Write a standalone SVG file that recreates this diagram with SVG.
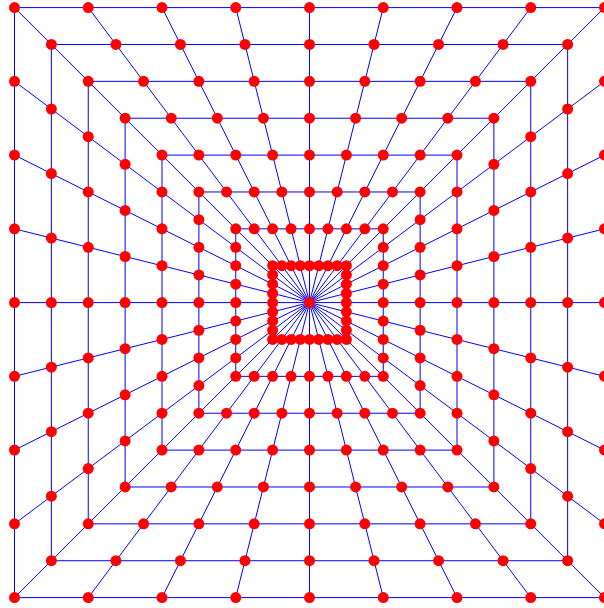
<svg xmlns="http://www.w3.org/2000/svg" width="604" height="608" viewBox="0 0 604 608">
<style>
.c line,.c rect{stroke:#0000ff;stroke-width:1;fill:none}
.nodes circle{fill:#ff0000}
</style>
<rect width="604" height="608" fill="#ffffff"/>
<g transform="translate(309.5,302.6)">
<g id="connectors" class="c">
<rect x="-295" y="-295" width="590" height="590"/>
<rect x="-258.13" y="-258.13" width="516.26" height="516.26"/>
<rect x="-221.25" y="-221.25" width="442.5" height="442.5"/>
<rect x="-184.38" y="-184.38" width="368.76" height="368.76"/>
<rect x="-147.5" y="-147.5" width="295" height="295"/>
<rect x="-110.63" y="-110.63" width="221.26" height="221.26"/>
<rect x="-73.75" y="-73.75" width="147.5" height="147.5"/>
<rect x="-36.88" y="-36.88" width="73.76" height="73.76"/>
<line x1="-295" y1="-295" x2="295" y2="295"/>
<line x1="-221.25" y1="-295" x2="221.25" y2="295"/>
<line x1="-147.5" y1="-295" x2="147.5" y2="295"/>
<line x1="-73.75" y1="-295" x2="73.75" y2="295"/>
<line x1="0" y1="-295" x2="0" y2="295"/>
<line x1="73.75" y1="-295" x2="-73.75" y2="295"/>
<line x1="147.5" y1="-295" x2="-147.5" y2="295"/>
<line x1="221.25" y1="-295" x2="-221.25" y2="295"/>
<line x1="295" y1="-295" x2="-295" y2="295"/>
<line x1="295" y1="-221.25" x2="-295" y2="221.25"/>
<line x1="295" y1="-147.5" x2="-295" y2="147.5"/>
<line x1="295" y1="-73.75" x2="-295" y2="73.75"/>
<line x1="295" y1="0" x2="-295" y2="0"/>
<line x1="295" y1="73.75" x2="-295" y2="-73.75"/>
<line x1="295" y1="147.5" x2="-295" y2="-147.5"/>
<line x1="295" y1="221.25" x2="-295" y2="-221.25"/>
</g>
<g class="nodes">
<g id="center"><circle cx="0" cy="0" r="5.5"/></g>
<g id="sq8">
<g id="q8-00"><circle cx="-295" cy="-295" r="5.5"/></g>
<g id="q8-01"><circle cx="-221.25" cy="-295" r="5.5"/></g>
<g id="q8-02"><circle cx="-147.5" cy="-295" r="5.5"/></g>
<g id="q8-03"><circle cx="-73.75" cy="-295" r="5.5"/></g>
<g id="q8-04"><circle cx="0" cy="-295" r="5.5"/></g>
<g id="q8-05"><circle cx="73.75" cy="-295" r="5.5"/></g>
<g id="q8-06"><circle cx="147.5" cy="-295" r="5.5"/></g>
<g id="q8-07"><circle cx="221.25" cy="-295" r="5.5"/></g>
<g id="q8-08"><circle cx="295" cy="-295" r="5.5"/></g>
<g id="q8-09"><circle cx="295" cy="-221.25" r="5.5"/></g>
<g id="q8-10"><circle cx="295" cy="-147.5" r="5.5"/></g>
<g id="q8-11"><circle cx="295" cy="-73.75" r="5.5"/></g>
<g id="q8-12"><circle cx="295" cy="0" r="5.5"/></g>
<g id="q8-13"><circle cx="295" cy="73.75" r="5.5"/></g>
<g id="q8-14"><circle cx="295" cy="147.5" r="5.5"/></g>
<g id="q8-15"><circle cx="295" cy="221.25" r="5.5"/></g>
<g id="q8-16"><circle cx="295" cy="295" r="5.5"/></g>
<g id="q8-17"><circle cx="221.25" cy="295" r="5.5"/></g>
<g id="q8-18"><circle cx="147.5" cy="295" r="5.5"/></g>
<g id="q8-19"><circle cx="73.75" cy="295" r="5.5"/></g>
<g id="q8-20"><circle cx="0" cy="295" r="5.5"/></g>
<g id="q8-21"><circle cx="-73.75" cy="295" r="5.5"/></g>
<g id="q8-22"><circle cx="-147.5" cy="295" r="5.5"/></g>
<g id="q8-23"><circle cx="-221.25" cy="295" r="5.5"/></g>
<g id="q8-24"><circle cx="-295" cy="295" r="5.5"/></g>
<g id="q8-25"><circle cx="-295" cy="221.25" r="5.5"/></g>
<g id="q8-26"><circle cx="-295" cy="147.5" r="5.5"/></g>
<g id="q8-27"><circle cx="-295" cy="73.75" r="5.5"/></g>
<g id="q8-28"><circle cx="-295" cy="0" r="5.5"/></g>
<g id="q8-29"><circle cx="-295" cy="-73.75" r="5.5"/></g>
<g id="q8-30"><circle cx="-295" cy="-147.5" r="5.5"/></g>
<g id="q8-31"><circle cx="-295" cy="-221.25" r="5.5"/></g>
</g>
<g id="sq7">
<g id="q7-00"><circle cx="-258.13" cy="-258.13" r="5.5"/></g>
<g id="q7-01"><circle cx="-193.59" cy="-258.13" r="5.5"/></g>
<g id="q7-02"><circle cx="-129.06" cy="-258.13" r="5.5"/></g>
<g id="q7-03"><circle cx="-64.53" cy="-258.13" r="5.5"/></g>
<g id="q7-04"><circle cx="0" cy="-258.13" r="5.5"/></g>
<g id="q7-05"><circle cx="64.53" cy="-258.13" r="5.5"/></g>
<g id="q7-06"><circle cx="129.06" cy="-258.13" r="5.5"/></g>
<g id="q7-07"><circle cx="193.59" cy="-258.13" r="5.5"/></g>
<g id="q7-08"><circle cx="258.13" cy="-258.13" r="5.5"/></g>
<g id="q7-09"><circle cx="258.13" cy="-193.59" r="5.5"/></g>
<g id="q7-10"><circle cx="258.13" cy="-129.06" r="5.5"/></g>
<g id="q7-11"><circle cx="258.13" cy="-64.53" r="5.5"/></g>
<g id="q7-12"><circle cx="258.13" cy="0" r="5.5"/></g>
<g id="q7-13"><circle cx="258.13" cy="64.53" r="5.5"/></g>
<g id="q7-14"><circle cx="258.13" cy="129.06" r="5.5"/></g>
<g id="q7-15"><circle cx="258.13" cy="193.59" r="5.5"/></g>
<g id="q7-16"><circle cx="258.13" cy="258.13" r="5.5"/></g>
<g id="q7-17"><circle cx="193.59" cy="258.13" r="5.5"/></g>
<g id="q7-18"><circle cx="129.06" cy="258.13" r="5.5"/></g>
<g id="q7-19"><circle cx="64.53" cy="258.13" r="5.5"/></g>
<g id="q7-20"><circle cx="0" cy="258.13" r="5.5"/></g>
<g id="q7-21"><circle cx="-64.53" cy="258.13" r="5.5"/></g>
<g id="q7-22"><circle cx="-129.06" cy="258.13" r="5.5"/></g>
<g id="q7-23"><circle cx="-193.59" cy="258.13" r="5.5"/></g>
<g id="q7-24"><circle cx="-258.13" cy="258.13" r="5.5"/></g>
<g id="q7-25"><circle cx="-258.13" cy="193.59" r="5.5"/></g>
<g id="q7-26"><circle cx="-258.13" cy="129.06" r="5.5"/></g>
<g id="q7-27"><circle cx="-258.13" cy="64.53" r="5.5"/></g>
<g id="q7-28"><circle cx="-258.13" cy="0" r="5.5"/></g>
<g id="q7-29"><circle cx="-258.13" cy="-64.53" r="5.5"/></g>
<g id="q7-30"><circle cx="-258.13" cy="-129.06" r="5.5"/></g>
<g id="q7-31"><circle cx="-258.13" cy="-193.59" r="5.5"/></g>
</g>
<g id="sq6">
<g id="q6-00"><circle cx="-221.25" cy="-221.25" r="5.5"/></g>
<g id="q6-01"><circle cx="-165.94" cy="-221.25" r="5.5"/></g>
<g id="q6-02"><circle cx="-110.63" cy="-221.25" r="5.5"/></g>
<g id="q6-03"><circle cx="-55.31" cy="-221.25" r="5.5"/></g>
<g id="q6-04"><circle cx="0" cy="-221.25" r="5.5"/></g>
<g id="q6-05"><circle cx="55.31" cy="-221.25" r="5.5"/></g>
<g id="q6-06"><circle cx="110.63" cy="-221.25" r="5.5"/></g>
<g id="q6-07"><circle cx="165.94" cy="-221.25" r="5.5"/></g>
<g id="q6-08"><circle cx="221.25" cy="-221.25" r="5.5"/></g>
<g id="q6-09"><circle cx="221.25" cy="-165.94" r="5.5"/></g>
<g id="q6-10"><circle cx="221.25" cy="-110.63" r="5.5"/></g>
<g id="q6-11"><circle cx="221.25" cy="-55.31" r="5.5"/></g>
<g id="q6-12"><circle cx="221.25" cy="0" r="5.5"/></g>
<g id="q6-13"><circle cx="221.25" cy="55.31" r="5.5"/></g>
<g id="q6-14"><circle cx="221.25" cy="110.63" r="5.5"/></g>
<g id="q6-15"><circle cx="221.25" cy="165.94" r="5.5"/></g>
<g id="q6-16"><circle cx="221.25" cy="221.25" r="5.5"/></g>
<g id="q6-17"><circle cx="165.94" cy="221.25" r="5.5"/></g>
<g id="q6-18"><circle cx="110.63" cy="221.25" r="5.5"/></g>
<g id="q6-19"><circle cx="55.31" cy="221.25" r="5.5"/></g>
<g id="q6-20"><circle cx="0" cy="221.25" r="5.5"/></g>
<g id="q6-21"><circle cx="-55.31" cy="221.25" r="5.5"/></g>
<g id="q6-22"><circle cx="-110.63" cy="221.25" r="5.5"/></g>
<g id="q6-23"><circle cx="-165.94" cy="221.25" r="5.5"/></g>
<g id="q6-24"><circle cx="-221.25" cy="221.25" r="5.5"/></g>
<g id="q6-25"><circle cx="-221.25" cy="165.94" r="5.5"/></g>
<g id="q6-26"><circle cx="-221.25" cy="110.63" r="5.5"/></g>
<g id="q6-27"><circle cx="-221.25" cy="55.31" r="5.5"/></g>
<g id="q6-28"><circle cx="-221.25" cy="0" r="5.5"/></g>
<g id="q6-29"><circle cx="-221.25" cy="-55.31" r="5.5"/></g>
<g id="q6-30"><circle cx="-221.25" cy="-110.63" r="5.5"/></g>
<g id="q6-31"><circle cx="-221.25" cy="-165.94" r="5.5"/></g>
</g>
<g id="sq5">
<g id="q5-00"><circle cx="-184.38" cy="-184.38" r="5.5"/></g>
<g id="q5-01"><circle cx="-138.28" cy="-184.38" r="5.5"/></g>
<g id="q5-02"><circle cx="-92.19" cy="-184.38" r="5.5"/></g>
<g id="q5-03"><circle cx="-46.09" cy="-184.38" r="5.5"/></g>
<g id="q5-04"><circle cx="0" cy="-184.38" r="5.5"/></g>
<g id="q5-05"><circle cx="46.09" cy="-184.38" r="5.5"/></g>
<g id="q5-06"><circle cx="92.19" cy="-184.38" r="5.5"/></g>
<g id="q5-07"><circle cx="138.28" cy="-184.38" r="5.5"/></g>
<g id="q5-08"><circle cx="184.38" cy="-184.38" r="5.5"/></g>
<g id="q5-09"><circle cx="184.38" cy="-138.28" r="5.5"/></g>
<g id="q5-10"><circle cx="184.38" cy="-92.19" r="5.5"/></g>
<g id="q5-11"><circle cx="184.38" cy="-46.09" r="5.5"/></g>
<g id="q5-12"><circle cx="184.38" cy="0" r="5.5"/></g>
<g id="q5-13"><circle cx="184.38" cy="46.09" r="5.5"/></g>
<g id="q5-14"><circle cx="184.38" cy="92.19" r="5.5"/></g>
<g id="q5-15"><circle cx="184.38" cy="138.28" r="5.5"/></g>
<g id="q5-16"><circle cx="184.38" cy="184.38" r="5.5"/></g>
<g id="q5-17"><circle cx="138.28" cy="184.38" r="5.5"/></g>
<g id="q5-18"><circle cx="92.19" cy="184.38" r="5.5"/></g>
<g id="q5-19"><circle cx="46.09" cy="184.38" r="5.5"/></g>
<g id="q5-20"><circle cx="0" cy="184.38" r="5.5"/></g>
<g id="q5-21"><circle cx="-46.09" cy="184.38" r="5.5"/></g>
<g id="q5-22"><circle cx="-92.19" cy="184.38" r="5.5"/></g>
<g id="q5-23"><circle cx="-138.28" cy="184.38" r="5.5"/></g>
<g id="q5-24"><circle cx="-184.38" cy="184.38" r="5.5"/></g>
<g id="q5-25"><circle cx="-184.38" cy="138.28" r="5.5"/></g>
<g id="q5-26"><circle cx="-184.38" cy="92.19" r="5.5"/></g>
<g id="q5-27"><circle cx="-184.38" cy="46.09" r="5.5"/></g>
<g id="q5-28"><circle cx="-184.38" cy="0" r="5.5"/></g>
<g id="q5-29"><circle cx="-184.38" cy="-46.09" r="5.5"/></g>
<g id="q5-30"><circle cx="-184.38" cy="-92.19" r="5.5"/></g>
<g id="q5-31"><circle cx="-184.38" cy="-138.28" r="5.5"/></g>
</g>
<g id="sq4">
<g id="q4-00"><circle cx="-147.5" cy="-147.5" r="5.5"/></g>
<g id="q4-01"><circle cx="-110.63" cy="-147.5" r="5.5"/></g>
<g id="q4-02"><circle cx="-73.75" cy="-147.5" r="5.5"/></g>
<g id="q4-03"><circle cx="-36.88" cy="-147.5" r="5.5"/></g>
<g id="q4-04"><circle cx="0" cy="-147.5" r="5.5"/></g>
<g id="q4-05"><circle cx="36.88" cy="-147.5" r="5.5"/></g>
<g id="q4-06"><circle cx="73.75" cy="-147.5" r="5.5"/></g>
<g id="q4-07"><circle cx="110.63" cy="-147.5" r="5.5"/></g>
<g id="q4-08"><circle cx="147.5" cy="-147.5" r="5.5"/></g>
<g id="q4-09"><circle cx="147.5" cy="-110.63" r="5.5"/></g>
<g id="q4-10"><circle cx="147.5" cy="-73.75" r="5.5"/></g>
<g id="q4-11"><circle cx="147.5" cy="-36.88" r="5.5"/></g>
<g id="q4-12"><circle cx="147.5" cy="0" r="5.5"/></g>
<g id="q4-13"><circle cx="147.5" cy="36.88" r="5.5"/></g>
<g id="q4-14"><circle cx="147.5" cy="73.75" r="5.5"/></g>
<g id="q4-15"><circle cx="147.5" cy="110.63" r="5.5"/></g>
<g id="q4-16"><circle cx="147.5" cy="147.5" r="5.5"/></g>
<g id="q4-17"><circle cx="110.63" cy="147.5" r="5.5"/></g>
<g id="q4-18"><circle cx="73.75" cy="147.5" r="5.5"/></g>
<g id="q4-19"><circle cx="36.88" cy="147.5" r="5.5"/></g>
<g id="q4-20"><circle cx="0" cy="147.5" r="5.5"/></g>
<g id="q4-21"><circle cx="-36.88" cy="147.5" r="5.5"/></g>
<g id="q4-22"><circle cx="-73.75" cy="147.5" r="5.5"/></g>
<g id="q4-23"><circle cx="-110.63" cy="147.5" r="5.5"/></g>
<g id="q4-24"><circle cx="-147.5" cy="147.5" r="5.5"/></g>
<g id="q4-25"><circle cx="-147.5" cy="110.63" r="5.5"/></g>
<g id="q4-26"><circle cx="-147.5" cy="73.75" r="5.5"/></g>
<g id="q4-27"><circle cx="-147.5" cy="36.88" r="5.5"/></g>
<g id="q4-28"><circle cx="-147.5" cy="0" r="5.5"/></g>
<g id="q4-29"><circle cx="-147.5" cy="-36.88" r="5.5"/></g>
<g id="q4-30"><circle cx="-147.5" cy="-73.75" r="5.5"/></g>
<g id="q4-31"><circle cx="-147.5" cy="-110.63" r="5.5"/></g>
</g>
<g id="sq3">
<g id="q3-00"><circle cx="-110.63" cy="-110.63" r="5.5"/></g>
<g id="q3-01"><circle cx="-82.97" cy="-110.63" r="5.5"/></g>
<g id="q3-02"><circle cx="-55.31" cy="-110.63" r="5.5"/></g>
<g id="q3-03"><circle cx="-27.66" cy="-110.63" r="5.5"/></g>
<g id="q3-04"><circle cx="0" cy="-110.63" r="5.5"/></g>
<g id="q3-05"><circle cx="27.66" cy="-110.63" r="5.5"/></g>
<g id="q3-06"><circle cx="55.31" cy="-110.63" r="5.5"/></g>
<g id="q3-07"><circle cx="82.97" cy="-110.63" r="5.5"/></g>
<g id="q3-08"><circle cx="110.63" cy="-110.63" r="5.5"/></g>
<g id="q3-09"><circle cx="110.63" cy="-82.97" r="5.5"/></g>
<g id="q3-10"><circle cx="110.63" cy="-55.31" r="5.5"/></g>
<g id="q3-11"><circle cx="110.63" cy="-27.66" r="5.5"/></g>
<g id="q3-12"><circle cx="110.63" cy="0" r="5.5"/></g>
<g id="q3-13"><circle cx="110.63" cy="27.66" r="5.5"/></g>
<g id="q3-14"><circle cx="110.63" cy="55.31" r="5.5"/></g>
<g id="q3-15"><circle cx="110.63" cy="82.97" r="5.5"/></g>
<g id="q3-16"><circle cx="110.63" cy="110.63" r="5.5"/></g>
<g id="q3-17"><circle cx="82.97" cy="110.63" r="5.5"/></g>
<g id="q3-18"><circle cx="55.31" cy="110.63" r="5.5"/></g>
<g id="q3-19"><circle cx="27.66" cy="110.63" r="5.5"/></g>
<g id="q3-20"><circle cx="0" cy="110.63" r="5.5"/></g>
<g id="q3-21"><circle cx="-27.66" cy="110.63" r="5.5"/></g>
<g id="q3-22"><circle cx="-55.31" cy="110.63" r="5.5"/></g>
<g id="q3-23"><circle cx="-82.97" cy="110.63" r="5.5"/></g>
<g id="q3-24"><circle cx="-110.63" cy="110.63" r="5.5"/></g>
<g id="q3-25"><circle cx="-110.63" cy="82.97" r="5.5"/></g>
<g id="q3-26"><circle cx="-110.63" cy="55.31" r="5.5"/></g>
<g id="q3-27"><circle cx="-110.63" cy="27.66" r="5.5"/></g>
<g id="q3-28"><circle cx="-110.63" cy="0" r="5.5"/></g>
<g id="q3-29"><circle cx="-110.63" cy="-27.66" r="5.5"/></g>
<g id="q3-30"><circle cx="-110.63" cy="-55.31" r="5.5"/></g>
<g id="q3-31"><circle cx="-110.63" cy="-82.97" r="5.5"/></g>
</g>
<g id="sq2">
<g id="q2-00"><circle cx="-73.75" cy="-73.75" r="5.5"/></g>
<g id="q2-01"><circle cx="-55.31" cy="-73.75" r="5.5"/></g>
<g id="q2-02"><circle cx="-36.88" cy="-73.75" r="5.5"/></g>
<g id="q2-03"><circle cx="-18.44" cy="-73.75" r="5.5"/></g>
<g id="q2-04"><circle cx="0" cy="-73.75" r="5.5"/></g>
<g id="q2-05"><circle cx="18.44" cy="-73.75" r="5.5"/></g>
<g id="q2-06"><circle cx="36.88" cy="-73.75" r="5.5"/></g>
<g id="q2-07"><circle cx="55.31" cy="-73.75" r="5.5"/></g>
<g id="q2-08"><circle cx="73.75" cy="-73.75" r="5.5"/></g>
<g id="q2-09"><circle cx="73.75" cy="-55.31" r="5.5"/></g>
<g id="q2-10"><circle cx="73.75" cy="-36.88" r="5.5"/></g>
<g id="q2-11"><circle cx="73.75" cy="-18.44" r="5.5"/></g>
<g id="q2-12"><circle cx="73.75" cy="0" r="5.5"/></g>
<g id="q2-13"><circle cx="73.75" cy="18.44" r="5.5"/></g>
<g id="q2-14"><circle cx="73.75" cy="36.88" r="5.5"/></g>
<g id="q2-15"><circle cx="73.75" cy="55.31" r="5.5"/></g>
<g id="q2-16"><circle cx="73.75" cy="73.75" r="5.5"/></g>
<g id="q2-17"><circle cx="55.31" cy="73.75" r="5.5"/></g>
<g id="q2-18"><circle cx="36.88" cy="73.75" r="5.5"/></g>
<g id="q2-19"><circle cx="18.44" cy="73.75" r="5.5"/></g>
<g id="q2-20"><circle cx="0" cy="73.75" r="5.5"/></g>
<g id="q2-21"><circle cx="-18.44" cy="73.75" r="5.5"/></g>
<g id="q2-22"><circle cx="-36.88" cy="73.75" r="5.5"/></g>
<g id="q2-23"><circle cx="-55.31" cy="73.75" r="5.5"/></g>
<g id="q2-24"><circle cx="-73.75" cy="73.75" r="5.5"/></g>
<g id="q2-25"><circle cx="-73.75" cy="55.31" r="5.5"/></g>
<g id="q2-26"><circle cx="-73.75" cy="36.88" r="5.5"/></g>
<g id="q2-27"><circle cx="-73.75" cy="18.44" r="5.5"/></g>
<g id="q2-28"><circle cx="-73.75" cy="0" r="5.5"/></g>
<g id="q2-29"><circle cx="-73.75" cy="-18.44" r="5.5"/></g>
<g id="q2-30"><circle cx="-73.75" cy="-36.88" r="5.5"/></g>
<g id="q2-31"><circle cx="-73.75" cy="-55.31" r="5.5"/></g>
</g>
<g id="sq1">
<g id="q1-00"><circle cx="-36.88" cy="-36.88" r="5.5"/></g>
<g id="q1-01"><circle cx="-27.66" cy="-36.88" r="5.5"/></g>
<g id="q1-02"><circle cx="-18.44" cy="-36.88" r="5.5"/></g>
<g id="q1-03"><circle cx="-9.22" cy="-36.88" r="5.5"/></g>
<g id="q1-04"><circle cx="0" cy="-36.88" r="5.5"/></g>
<g id="q1-05"><circle cx="9.22" cy="-36.88" r="5.5"/></g>
<g id="q1-06"><circle cx="18.44" cy="-36.88" r="5.5"/></g>
<g id="q1-07"><circle cx="27.66" cy="-36.88" r="5.5"/></g>
<g id="q1-08"><circle cx="36.88" cy="-36.88" r="5.5"/></g>
<g id="q1-09"><circle cx="36.88" cy="-27.66" r="5.5"/></g>
<g id="q1-10"><circle cx="36.88" cy="-18.44" r="5.5"/></g>
<g id="q1-11"><circle cx="36.88" cy="-9.22" r="5.5"/></g>
<g id="q1-12"><circle cx="36.88" cy="0" r="5.5"/></g>
<g id="q1-13"><circle cx="36.88" cy="9.22" r="5.5"/></g>
<g id="q1-14"><circle cx="36.88" cy="18.44" r="5.5"/></g>
<g id="q1-15"><circle cx="36.88" cy="27.66" r="5.5"/></g>
<g id="q1-16"><circle cx="36.88" cy="36.88" r="5.5"/></g>
<g id="q1-17"><circle cx="27.66" cy="36.88" r="5.5"/></g>
<g id="q1-18"><circle cx="18.44" cy="36.88" r="5.5"/></g>
<g id="q1-19"><circle cx="9.22" cy="36.88" r="5.5"/></g>
<g id="q1-20"><circle cx="0" cy="36.88" r="5.5"/></g>
<g id="q1-21"><circle cx="-9.22" cy="36.88" r="5.5"/></g>
<g id="q1-22"><circle cx="-18.44" cy="36.88" r="5.5"/></g>
<g id="q1-23"><circle cx="-27.66" cy="36.88" r="5.5"/></g>
<g id="q1-24"><circle cx="-36.88" cy="36.88" r="5.5"/></g>
<g id="q1-25"><circle cx="-36.88" cy="27.66" r="5.5"/></g>
<g id="q1-26"><circle cx="-36.88" cy="18.44" r="5.5"/></g>
<g id="q1-27"><circle cx="-36.88" cy="9.22" r="5.5"/></g>
<g id="q1-28"><circle cx="-36.88" cy="0" r="5.5"/></g>
<g id="q1-29"><circle cx="-36.88" cy="-9.22" r="5.5"/></g>
<g id="q1-30"><circle cx="-36.88" cy="-18.44" r="5.5"/></g>
<g id="q1-31"><circle cx="-36.88" cy="-27.66" r="5.5"/></g>
</g>
</g>
</g>
</svg>
